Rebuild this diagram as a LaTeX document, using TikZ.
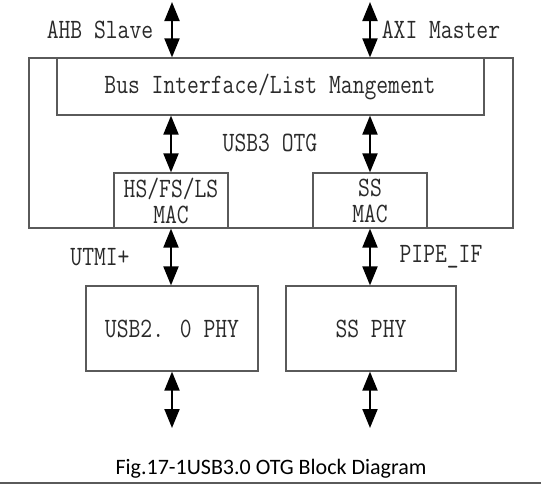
\documentclass[tikz,border=0pt]{standalone}
\usepackage{fontspec}
\usetikzlibrary{arrows.meta}
\newfontfamily\simfont[FakeStretch=0.82]{Latin Modern Mono}
\newfontfamily\capfont{Carlito}
\definecolor{boxgray}{HTML}{5A5A5A}
\definecolor{txtgray}{HTML}{2A2A2A}
\tikzset{
  blk/.style={draw=boxgray, line width=1.2pt, inner sep=0pt},
  lbl/.style={font=\simfont\fontsize{28}{26}\selectfont, text=txtgray, inner sep=0pt, align=center},
  dbl/.style={line width=2pt, {Triangle[width=15pt,length=19pt]}-{Triangle[width=15pt,length=19pt]}}
}
\begin{document}
\begin{tikzpicture}[x=1pt,y=-1pt]
\useasboundingbox (0,0) rectangle (541,485);
% outer box
\node[blk, minimum width=484pt, minimum height=170pt] (otg) at (271,143) {};
\node[blk, minimum width=427pt, minimum height=57pt] (bus) at (270.5,86.5) {};
\node[lbl] (bustxt) at (270,87) {Bus Interface/List Mangement};
\node[lbl] (otgtxt) at (270,143) {USB3 OTG};
\node[blk, fill=white, minimum width=114pt, minimum height=55pt] (hsmac) at (171,200.5) {};
\node[blk, fill=white, minimum width=114pt, minimum height=55pt] (ssmac) at (370,200.5) {};
\node[lbl] (hsmactxt) at (171,200.5) {HS/FS/LS\\MAC};
\node[lbl] (ssmactxt) at (370,200.5) {SS\\MAC};
\node[blk, minimum width=172pt, minimum height=85pt] (usbphy) at (172,328.5) {};
\node[blk, minimum width=170pt, minimum height=85pt] (ssphy) at (371,328.5) {};
\node[lbl] (usbphytxt) at (172,328.5) {USB2. 0 PHY};
\node[lbl] (ssphytxt) at (371,328.5) {SS PHY};
\node[lbl] (ahb) at (100,30) {AHB Slave};
\node[lbl] (axi) at (441,30) {AXI Master};
\node[lbl] (utmi) at (100,257) {UTMI+};
\node[lbl] (pipe) at (441,257) {PIPE\_IF};
\node[font=\capfont\fontsize{22}{22}\selectfont, inner sep=0pt] (cap) at (271,469) {Fig.17-1USB3.0 OTG Block Diagram};
% coordinates
\coordinate (ahbtop) at (172,2);
\coordinate (axitop) at (370,2);
\coordinate (usbbot) at (172,428);
\coordinate (ssbot) at (370,428);
% arrows
\draw[dbl] (ahbtop) -- (ahbtop |- bus.north);
\draw[dbl] (axitop) -- (axitop |- bus.north);
\draw[dbl] (hsmac.north |- bus.south) -- (hsmac.north);
\draw[dbl] (ssmac.north |- bus.south) -- (ssmac.north);
\draw[dbl] (hsmac.south) -- (hsmac.south |- usbphy.north);
\draw[dbl] (ssmac.south) -- (ssmac.south |- ssphy.north);
\draw[dbl] (usbphy.south) -- (usbbot);
\draw[dbl] (ssbot |- ssphy.south) -- (ssbot);
% bottom rule
\coordinate (rulel) at (0,483);
\coordinate (ruler) at (541,483);
\draw[boxgray, line width=1.2pt] (rulel) -- (ruler);
\end{tikzpicture}
\end{document}
